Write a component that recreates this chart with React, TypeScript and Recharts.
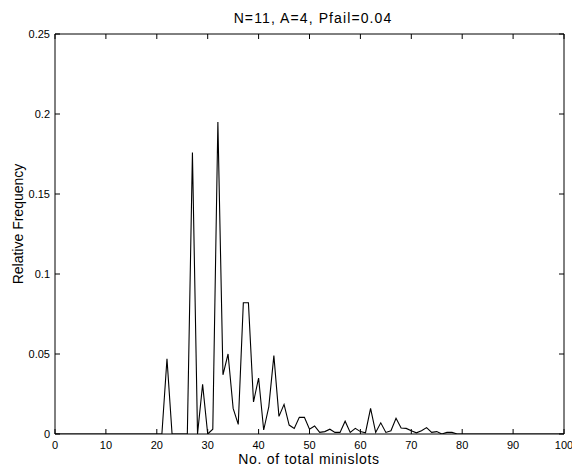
import React from 'react';
import { Line, LineChart, XAxis, YAxis } from 'recharts';

// histogram of total minislots (x = number of minislots, y = relative frequency)
const minislots = Array.from({ length: 101 }, (_, i) => i);
const relFreq = [
  0, 0, 0, 0, 0, 0, 0, 0, 0, 0,
  0, 0, 0, 0, 0, 0, 0, 0, 0, 0,
  0, 0, 0.047, 0, 0, 0, 0, 0.176, 0, 0.031,
  0, 0.003, 0.195, 0.037, 0.05, 0.016, 0.006, 0.082, 0.082, 0.02,
  0.035, 0.0025, 0.017, 0.049, 0.011, 0.0185, 0.0056, 0.0035, 0.0104, 0.0104,
  0.003, 0.005, 0.001, 0.0015, 0.003, 0.001, 0.001, 0.008, 0.001, 0.0035,
  0.0015, 0.0008, 0.016, 0.001, 0.007, 0.001, 0.002, 0.0098, 0.0037, 0.0035,
  0.002, 0.0007, 0.002, 0.004, 0.001, 0.0015, 0, 0.001, 0.001, 0,
  0, 0, 0, 0, 0, 0, 0, 0, 0, 0,
  0, 0, 0, 0, 0, 0, 0, 0, 0, 0,
  0,
];
const xTicks = [0, 10, 20, 30, 40, 50, 60, 70, 80, 90, 100];
const yTicks = [0, 0.05, 0.1, 0.15, 0.2, 0.25];

const title = 'N=11, A=4, Pfail=0.04';
const xLabel = 'No. of total minislots';
const yLabel = 'Relative Frequency';

const data = minislots.map((x, i) => ({ x, freq: relFreq[i] }));

const FONT = '"Liberation Sans", Arial, Helvetica, sans-serif';
const tickStyle = { fontSize: 11, fill: '#000', fontFamily: FONT };
const noLabel = () => <g />;

export default function App() {
  return (
    <div style={{ position: 'relative', width: 572, height: 467, background: '#fff' }}>
      <style>{'body{margin:0}'}</style>
      <LineChart
        width={572}
        height={467}
        data={data}
        margin={{ top: 33, right: 7, left: 0, bottom: 0 }}
      >
        <XAxis
          dataKey="x"
          type="number"
          domain={[0, 100]}
          ticks={xTicks}
          height={33}
          tickSize={-5}
          tickMargin={12}
          tick={tickStyle}
          stroke="#000"
          interval={0}
          allowDataOverflow
        />
        <XAxis
          xAxisId="top"
          dataKey="x"
          orientation="top"
          type="number"
          domain={[0, 100]}
          ticks={xTicks}
          height={1}
          tickSize={-5}
          tick={noLabel}
          stroke="#000"
          interval={0}
          allowDataOverflow
        />
        <YAxis
          type="number"
          domain={[0, 0.25]}
          ticks={yTicks}
          width={55}
          tickSize={-5}
          tickMargin={10}
          tick={tickStyle}
          tickFormatter={(v: number) => String(v)}
          stroke="#000"
          interval={0}
          allowDataOverflow
        />
        <YAxis
          yAxisId="right"
          orientation="right"
          type="number"
          domain={[0, 0.25]}
          ticks={yTicks}
          width={1}
          tickSize={-5}
          tick={noLabel}
          stroke="#000"
          interval={0}
          allowDataOverflow
        />
        {/* invisible twin series so the top/right box axes get drawn */}
        <Line
          xAxisId="top"
          yAxisId="right"
          type="linear"
          dataKey="freq"
          stroke="none"
          dot={false}
          activeDot={false}
          legendType="none"
          isAnimationActive={false}
        />
        <Line
          type="linear"
          dataKey="freq"
          stroke="#000"
          strokeWidth={1.1}
          dot={false}
          activeDot={false}
          isAnimationActive={false}
        />
      </LineChart>
      <svg
        width={572}
        height={467}
        style={{ position: 'absolute', left: 0, top: 0, pointerEvents: 'none' }}
      >
        <text x={313} y={23} textAnchor="middle" fontSize={14} letterSpacing={1.1} fontFamily={FONT} fill="#000">
          {title}
        </text>
        <text x={309} y={464} textAnchor="middle" fontSize={14} letterSpacing={0.7} fontFamily={FONT} fill="#000">
          {xLabel}
        </text>
        <text
          x={23}
          y={224}
          textAnchor="middle"
          fontSize={14}
          fontFamily={FONT}
          fill="#000"
          transform="rotate(-90 23 224)"
        >
          {yLabel}
        </text>
      </svg>
    </div>
  );
}
